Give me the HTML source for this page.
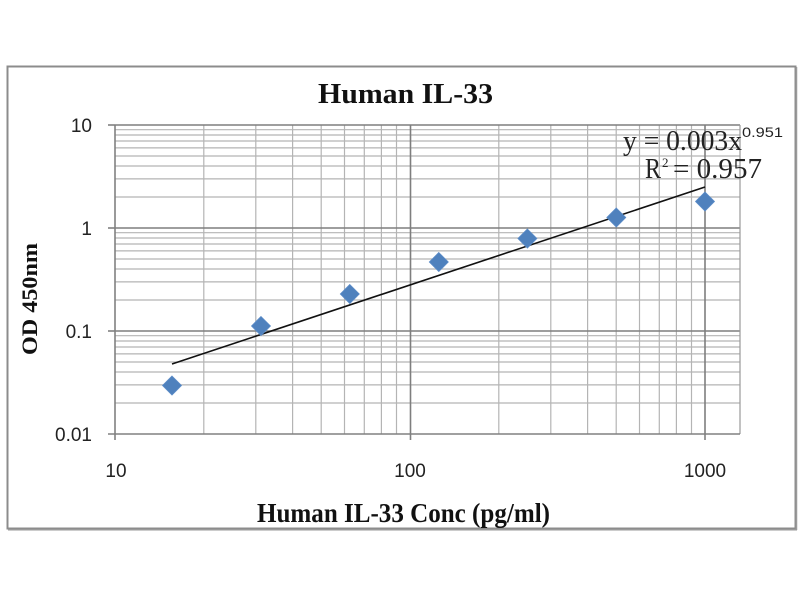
<!DOCTYPE html>
<html>
<head>
<meta charset="utf-8">
<style>
html,body{margin:0;padding:0;background:#fff;}
svg{display:block;}
</style>
</head>
<body>
<svg width="800" height="600" viewBox="0 0 800 600" xmlns="http://www.w3.org/2000/svg">
<rect x="0" y="0" width="800" height="600" fill="#fff"/>
<!-- outer frame -->
<rect x="7.5" y="66.5" width="788" height="462" fill="#fff" stroke="#8c8c8c" stroke-width="2"/>
<line x1="796.5" y1="67" x2="796.5" y2="530" stroke="#9a9a9a" stroke-width="1.5"/>
<line x1="8" y1="529.8" x2="797" y2="529.8" stroke="#9a9a9a" stroke-width="1.5"/>

<!-- minor vertical grid -->
<g stroke="#b4b4b4" stroke-width="1.2">
<line x1="203.8" y1="125" x2="203.8" y2="434"/>
<line x1="255.8" y1="125" x2="255.8" y2="434"/>
<line x1="292.6" y1="125" x2="292.6" y2="434"/>
<line x1="321.2" y1="125" x2="321.2" y2="434"/>
<line x1="344.5" y1="125" x2="344.5" y2="434"/>
<line x1="364.3" y1="125" x2="364.3" y2="434"/>
<line x1="381.4" y1="125" x2="381.4" y2="434"/>
<line x1="396.5" y1="125" x2="396.5" y2="434"/>
<line x1="498.8" y1="125" x2="498.8" y2="434"/>
<line x1="550.8" y1="125" x2="550.8" y2="434"/>
<line x1="587.6" y1="125" x2="587.6" y2="434"/>
<line x1="616.2" y1="125" x2="616.2" y2="434"/>
<line x1="639.5" y1="125" x2="639.5" y2="434"/>
<line x1="659.3" y1="125" x2="659.3" y2="434"/>
<line x1="676.4" y1="125" x2="676.4" y2="434"/>
<line x1="691.5" y1="125" x2="691.5" y2="434"/>
</g>
<!-- minor horizontal grid -->
<g stroke="#b4b4b4" stroke-width="1.2">
<line x1="115" y1="129.7" x2="740" y2="129.7"/>
<line x1="115" y1="135" x2="740" y2="135"/>
<line x1="115" y1="141" x2="740" y2="141"/>
<line x1="115" y1="147.9" x2="740" y2="147.9"/>
<line x1="115" y1="156" x2="740" y2="156"/>
<line x1="115" y1="166" x2="740" y2="166"/>
<line x1="115" y1="178.9" x2="740" y2="178.9"/>
<line x1="115" y1="197" x2="740" y2="197"/>
<line x1="115" y1="232.7" x2="740" y2="232.7"/>
<line x1="115" y1="238" x2="740" y2="238"/>
<line x1="115" y1="244" x2="740" y2="244"/>
<line x1="115" y1="250.9" x2="740" y2="250.9"/>
<line x1="115" y1="259" x2="740" y2="259"/>
<line x1="115" y1="269" x2="740" y2="269"/>
<line x1="115" y1="281.9" x2="740" y2="281.9"/>
<line x1="115" y1="300" x2="740" y2="300"/>
<line x1="115" y1="335.7" x2="740" y2="335.7"/>
<line x1="115" y1="341" x2="740" y2="341"/>
<line x1="115" y1="347" x2="740" y2="347"/>
<line x1="115" y1="353.9" x2="740" y2="353.9"/>
<line x1="115" y1="362" x2="740" y2="362"/>
<line x1="115" y1="372" x2="740" y2="372"/>
<line x1="115" y1="384.9" x2="740" y2="384.9"/>
<line x1="115" y1="403" x2="740" y2="403"/>
</g>
<!-- major grid -->
<g stroke="#7e7e7e" stroke-width="1.6">
<line x1="115" y1="125" x2="740" y2="125"/>
<line x1="115" y1="228" x2="740" y2="228"/>
<line x1="115" y1="331" x2="740" y2="331"/>
<line x1="410.5" y1="125" x2="410.5" y2="434"/>
<line x1="705" y1="125" x2="705" y2="434"/>
</g>
<!-- plot right border -->
<line x1="740" y1="125" x2="740" y2="434" stroke="#9a9a9a" stroke-width="1.2"/>
<!-- axes -->
<g stroke="#808080" stroke-width="1.6">
<line x1="115" y1="125" x2="115" y2="440"/>
<line x1="108" y1="434" x2="740" y2="434"/>
<line x1="108" y1="125" x2="115" y2="125"/>
<line x1="108" y1="228" x2="115" y2="228"/>
<line x1="108" y1="331" x2="115" y2="331"/>
<line x1="410.5" y1="434" x2="410.5" y2="440"/>
<line x1="705" y1="434" x2="705" y2="440"/>
</g>

<!-- trendline -->
<line x1="172" y1="364" x2="705" y2="187" stroke="#111" stroke-width="1.6"/>

<!-- markers -->
<g fill="#4f81bd" stroke="#5b8cc8" stroke-width="0.8">
<polygon points="172,376 181.5,385.5 172,395 162.5,385.5"/>
<polygon points="261,316.5 270.5,326 261,335.5 251.5,326"/>
<polygon points="349.8,284.5 359.3,294 349.8,303.5 340.3,294"/>
<polygon points="438.8,252.5 448.3,262 438.8,271.5 429.3,262"/>
<polygon points="527.4,229 536.9,238.5 527.4,248 517.9,238.5"/>
<polygon points="616.3,208 625.8,217.5 616.3,227 606.8,217.5"/>
<polygon points="705,192 714.5,201.5 705,211 695.5,201.5"/>
</g>

<!-- title -->
<text x="318" y="103" font-family="Liberation Serif, serif" font-weight="bold" font-size="28" fill="#111" textLength="175" lengthAdjust="spacingAndGlyphs">Human IL-33</text>

<!-- equation -->
<text x="623" y="150" font-family="Liberation Serif, serif" font-size="28" fill="#222" textLength="119" lengthAdjust="spacingAndGlyphs">y = 0.003x</text>
<text x="742" y="137" font-family="Liberation Sans, sans-serif" font-size="14" fill="#222" textLength="41" lengthAdjust="spacingAndGlyphs">0.951</text>
<text x="645" y="178" font-family="Liberation Serif, serif" font-size="28" fill="#222" textLength="16" lengthAdjust="spacingAndGlyphs">R</text>
<text x="662" y="167" font-family="Liberation Serif, serif" font-size="13" fill="#222">2</text>
<text x="673" y="178" font-family="Liberation Serif, serif" font-size="28" fill="#222" textLength="89" lengthAdjust="spacingAndGlyphs">= 0.957</text>

<!-- y tick labels -->
<g font-family="Liberation Sans, sans-serif" font-size="19" fill="#222" text-anchor="end">
<text x="92" y="132">10</text>
<text x="92" y="235">1</text>
<text x="92" y="338">0.1</text>
<text x="92" y="441">0.01</text>
</g>
<!-- x tick labels -->
<g font-family="Liberation Sans, sans-serif" font-size="19" fill="#222" text-anchor="middle">
<text x="116" y="477">10</text>
<text x="410" y="477">100</text>
<text x="705" y="477">1000</text>
</g>

<!-- axis titles -->
<text x="257" y="522" font-family="Liberation Serif, serif" font-weight="bold" font-size="27" fill="#111" textLength="293" lengthAdjust="spacingAndGlyphs">Human IL-33 Conc (pg/ml)</text>
<text transform="translate(37,299) rotate(-90)" x="0" y="0" text-anchor="middle" font-family="Liberation Serif, serif" font-weight="bold" font-size="22" fill="#111" textLength="112" lengthAdjust="spacingAndGlyphs">OD 450nm</text>
</svg>
</body>
</html>
